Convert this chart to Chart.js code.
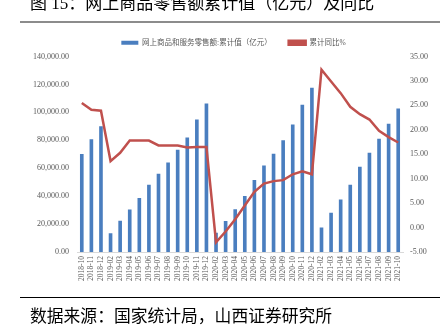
<!DOCTYPE html>
<html>
<head>
<meta charset="utf-8">
<script src="https://cdn.jsdelivr.net/npm/chart.js@4"></script>
<style>
body{margin:0;background:#fff;overflow:hidden;}
#wrap{position:absolute;left:0;top:0;width:445px;height:330px;}
#title{position:absolute;left:30px;top:-5px;font-family:"Liberation Serif","Noto Sans CJK SC";font-size:17px;line-height:17px;color:#000;white-space:nowrap;}
#topline{position:absolute;left:20px;top:21px;width:420px;height:2px;background:#8c8c8c;}
#botline{position:absolute;left:20px;top:297px;width:420px;height:1px;background:#000;}
#source{position:absolute;left:30px;top:307px;font-family:"Noto Sans CJK SC";font-size:16.8px;line-height:17px;color:#000;white-space:nowrap;}
</style>
</head>
<body>
<div id="wrap"><canvas id="chart"></canvas></div>
<div id="title">图 15：网上商品零售额累计值（亿元）及同比</div>
<div id="topline"></div>
<div id="botline"></div>
<div id="source">数据来源：国家统计局，山西证券研究所</div>
<script>

let months=["2018-10","2018-11","2018-12",
"2019-02","2019-03","2019-04","2019-05","2019-06","2019-07","2019-08","2019-09","2019-10","2019-11","2019-12",
"2020-02","2020-03","2020-04","2020-05","2020-06","2020-07","2020-08","2020-09","2020-10","2020-11","2020-12",
"2021-02","2021-03","2021-04","2021-05","2021-06","2021-07","2021-08","2021-09","2021-10"];

// 网上商品和服务零售额:累计值（亿元）
let salesCum=[70198,80689,90065,
13379,22379,30439,38641,48161,55967,64137,73237,81910,94958,106324,
13712,22169,30641,40176,51501,61865,70326,80065,91275,105374,117601,
17587,28093,37658,48239,61133,71134,81022,91871,102695];

// 累计同比%
let yoyCum=[25.5,24.1,23.9,
13.6,15.3,17.8,17.8,17.8,16.8,16.8,16.8,16.4,16.5,16.5,
-3.0,-0.8,1.7,4.5,7.3,9.0,9.5,9.7,10.9,11.5,10.9,
32.3,29.9,27.5,24.7,23.2,22.1,19.8,18.5,17.4];

let leftMin=0, leftMax=140000, leftStep=20000;
let rightMin=-5, rightMax=35, rightStep=5;

let tickFont={family:"Liberation Serif",size:8};
let tickColor="#595959";

new Chart(document.getElementById("chart"),{

type:"bar",

data:{
labels:months,
datasets:[{
type:"bar",
label:"网上商品和服务零售额:累计值（亿元）",
data:salesCum,
backgroundColor:"#4a7ebf",
barPercentage:0.38,
categoryPercentage:1,
yAxisID:"y",
order:1
},{
type:"line",
label:"累计同比%",
data:yoyCum,
borderColor:"#c0504d",
backgroundColor:"#c0504d",
borderWidth:2.5,
pointRadius:0,
tension:0,
yAxisID:"y1",
order:0
}]
},

options:{
responsive:true,
maintainAspectRatio:false,
animation:false,
layout:{padding:{left:22,right:0,top:22,bottom:0}},
plugins:{
tooltip:{enabled:false},
legend:{
position:"top",
labels:{
boxWidth:17,
boxHeight:4,
padding:17,
color:"#595959",
font:{family:"Liberation Serif, Noto Sans CJK SC",size:7.5},
sort:(a,b)=>a.datasetIndex-b.datasetIndex
}
}
},
scales:{
x:{
grid:{display:false,drawTicks:false},
border:{display:true,color:"#d9d9d9",width:1},
ticks:{font:{family:"Liberation Serif",size:7.5},color:tickColor,maxRotation:90,minRotation:90,autoSkip:false,padding:4},
afterFit:s=>{s.height=78;}
},
y:{
position:"left",
min:leftMin,
max:leftMax,
grid:{display:false,drawTicks:false},
border:{display:false},
ticks:{stepSize:leftStep,font:tickFont,color:tickColor,padding:8,
callback:v=>v.toLocaleString("en-US",{minimumFractionDigits:2,maximumFractionDigits:2})},
afterFit:s=>{s.width=55;}
},
y1:{
position:"right",
min:rightMin,
max:rightMax,
grid:{display:false,drawTicks:false},
border:{display:false},
ticks:{stepSize:rightStep,font:tickFont,color:tickColor,padding:7,
callback:v=>v.toFixed(2)},
afterFit:s=>{s.width=42;}
}
}
}

});

</script>
</body>
</html>
